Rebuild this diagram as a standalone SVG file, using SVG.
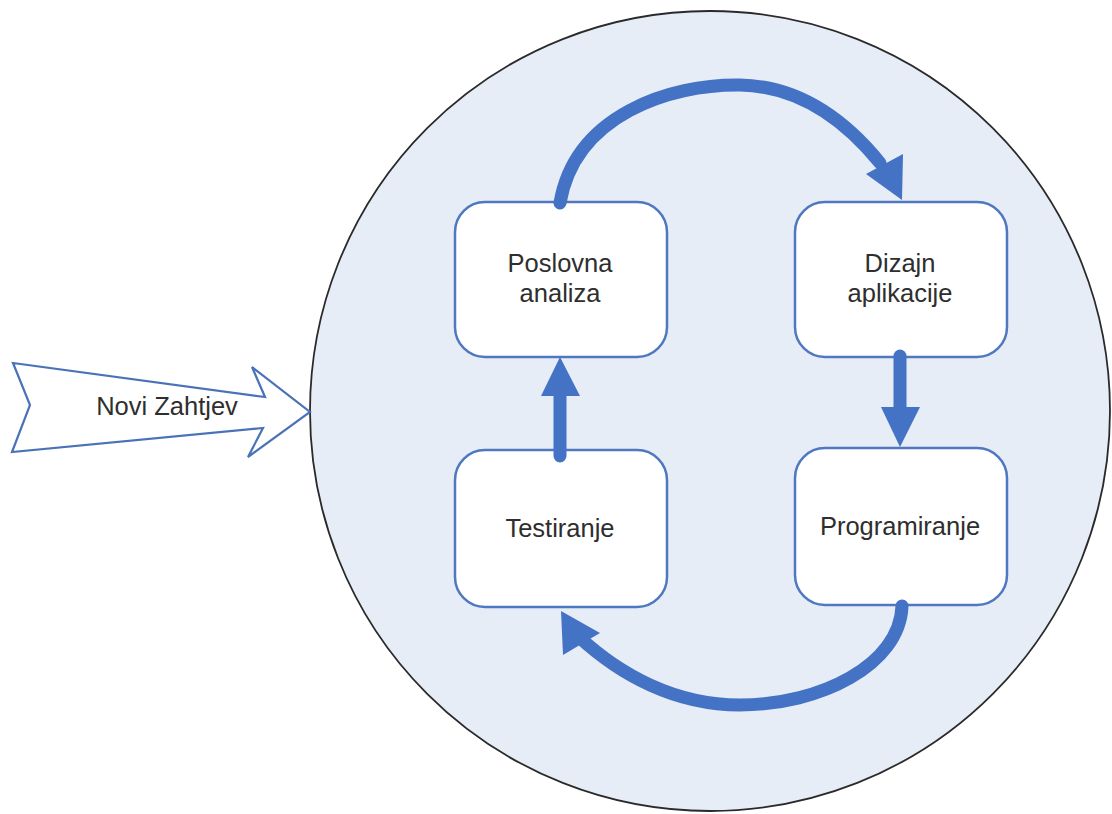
<svg xmlns="http://www.w3.org/2000/svg" width="1112" height="814" viewBox="0 0 1112 814">
<style>
.box{fill:#ffffff;stroke:#4f78c0;stroke-width:2.5}
.lbl{font-family:"Liberation Sans",Arial,sans-serif;font-size:25.5px;fill:#2e2e2e;text-anchor:middle}
.flow{fill:none;stroke:#4472c4;stroke-width:13;stroke-linecap:round}
.head{fill:#4472c4;stroke:none}
</style>
<rect width="1112" height="814" fill="#ffffff"/>
<g id="cycle">
<circle cx="710" cy="411" r="400" fill="#e6edf7" stroke="#2a2a2a" stroke-width="1.8"/>
</g>
<g id="novi-zahtjev">
<polygon points="13,363 265,397 252,367 310,412 248,457 263,428 12,452 30,405" fill="#ffffff" stroke="#4a72b8" stroke-width="2.2" stroke-linejoin="miter"/>
<text class="lbl" x="167" y="415">Novi Zahtjev</text>
</g>
<g id="poslovna-analiza">
<rect class="box" x="455" y="202" width="212" height="155" rx="30"/>
<text class="lbl" x="560" y="272">Poslovna</text>
<text class="lbl" x="560" y="302">analiza</text>
</g>
<g id="dizajn-aplikacije">
<rect class="box" x="795" y="202" width="212" height="155" rx="30"/>
<text class="lbl" x="900" y="272">Dizajn</text>
<text class="lbl" x="900" y="302">aplikacije</text>
</g>
<g id="testiranje">
<rect class="box" x="455" y="450" width="212" height="157" rx="30"/>
<text class="lbl" x="560" y="537">Testiranje</text>
</g>
<g id="programiranje">
<rect class="box" x="795" y="448" width="212" height="157" rx="30"/>
<text class="lbl" x="900" y="535">Programiranje</text>
</g>
<g id="connectors">
<path class="flow" d="M560,203 C575,115 670,84 740,85 C800,86 845,120 880,163"/>
<polygon class="head" points="866,174 903,154 902,200"/>
<path class="flow" d="M900,356 L900,410"/>
<polygon class="head" points="881,407 920,407 900,447"/>
<path class="flow" d="M902,606 C900,665 820,705 740,705 C675,705 620,675 578,636"/>
<polygon class="head" points="561,611 600,633 563,655"/>
<path class="flow" d="M560,456 L560,392"/>
<polygon class="head" points="541,396 580,396 560,357"/>
</g>
</svg>
